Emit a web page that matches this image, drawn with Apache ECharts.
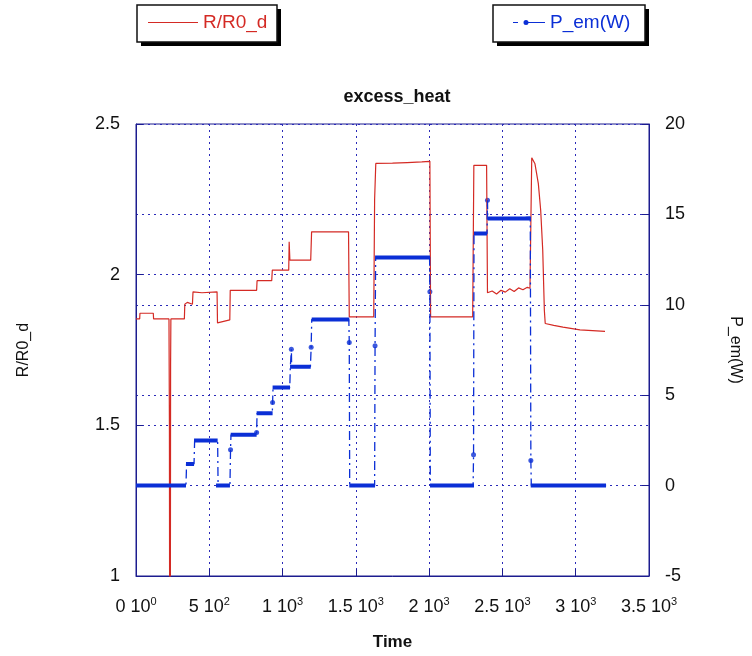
<!DOCTYPE html>
<html lang="en">
<head>
    <meta charset="UTF-8">
    <title>excess_heat</title>
    <script src="https://cdn.jsdelivr.net/npm/echarts@6/dist/echarts.min.js"></script>
</head>
<body style="margin:0;background:#fff">
<div id="chart" style="width:752px;height:656px"></div>
<script type="text/javascript">
    // x tick labels: mantissa and power of ten
    var xTickMant = ['0', '5', '1', '1.5', '2', '2.5', '3', '3.5'];
    var xTickExp = ['0', '2', '3', '3', '3', '3', '3', '3'];

    // R/R0_d (left axis)
    var redT = [0, 25, 27, 118, 120, 225, 228, 230, 232, 234, 236, 238, 330, 333, 350, 385, 389, 450, 553, 556, 560, 640, 643, 823, 826, 926, 930, 1042, 1045, 1050, 1192, 1198, 1450, 1455, 1622, 1628, 1636, 1750, 1850, 1950, 2005, 2010, 2297, 2305, 2392, 2398,
        2430, 2460, 2490, 2520, 2550, 2580, 2610, 2640, 2670, 2688, 2700, 2722, 2745, 2761, 2775, 2786, 2792, 2850, 2913, 3029, 3200];
    var redR = [1.853, 1.853, 1.872, 1.872, 1.853, 1.853, 1.50, 0.60, 1.40, 0.60, 1.70, 1.853, 1.853, 1.902, 1.908, 1.902, 1.943, 1.940, 1.943, 1.84, 1.84, 1.85, 1.948, 1.948, 1.98, 1.98, 2.015, 2.015, 2.109, 2.048, 2.048, 2.142, 2.142, 1.86, 1.86, 2.25, 2.369, 2.370, 2.372, 2.374, 2.376, 1.86, 1.86, 2.363, 2.363, 1.940,
        1.946, 1.936, 1.948, 1.942, 1.953, 1.944, 1.956, 1.950, 1.958, 1.955, 2.388, 2.368, 2.302, 2.214, 2.081, 1.882, 1.838, 1.832, 1.826, 1.817, 1.812];

    // P_em(W) (right axis): dash-dot trace
    var pTraceT = [0, 341, 345, 396, 400, 557, 560, 641, 645, 648, 820, 823, 826, 930, 932, 935, 1049, 1053, 1058, 1060, 1062, 1190, 1195, 1199, 1452, 1455, 1458, 1628, 1631, 1635, 2003, 2005, 2008, 2300, 2303, 2306, 2395, 2398, 2400, 2690, 2694, 2697, 3207];
    var pTraceW = [0, 0, 1.2, 1.2, 2.49, 2.49, 0, 0, 1.98, 2.81, 2.81, 2.94, 4.0, 4.0, 4.6, 5.42, 5.42, 6.58, 6.58, 7.54, 6.58, 6.58, 7.65, 9.19, 9.19, 7.92, 0, 0, 7.74, 12.6, 12.65, 10.72, 0, 0, 1.7, 13.94, 13.94, 15.78, 14.73, 14.85, 1.39, 0, 0];

    // P_em(W): dense sample plateaus (start, end, value)
    var plateauStart = [0, 341, 396, 546, 646, 823, 932, 1051, 1199, 1455, 1631, 2006, 2306, 2400, 2693];
    var plateauEnd = [341, 396, 557, 641, 823, 932, 1051, 1192, 1455, 1631, 2006, 2306, 2395, 2693, 3207];
    var plateauW = [0, 1.2, 2.49, 0, 2.81, 4.0, 5.42, 6.58, 9.19, 0, 12.62, 0, 13.94, 14.78, 0];

    // P_em(W): isolated sample points on the transitions
    var dotT = [645, 823, 932, 1060, 1195, 1455, 1631, 2005, 2303, 2398, 2694];
    var dotW = [1.98, 2.94, 4.6, 7.54, 7.65, 7.92, 7.74, 10.72, 1.7, 15.78, 1.39];

    var RED = '#d42a24';
    var BLUE = '#0b2fd6';
    var FRAME = '#1c1c8f';
    var FONT = 'Liberation Sans';

    function zip(a, b) {
        return a.map(function (v, i) { return [v, b[i]]; });
    }

    var plateauData = [];
    for (var i = 0; i < plateauStart.length; i++) {
        plateauData.push([plateauStart[i], plateauW[i]]);
        plateauData.push([plateauEnd[i], plateauW[i]]);
        plateauData.push([plateauEnd[i], '-']);
    }

    // framed legend boxes with a hard drop shadow
    function legendBox(x, w) {
        return [
            {type: 'rect', z: 1, shape: {x: x + 4, y: 9, width: w, height: 37}, style: {fill: '#000'}},
            {type: 'rect', z: 2, shape: {x: x, y: 5, width: w, height: 37}, style: {fill: '#fff', stroke: '#111', lineWidth: 1.5}}
        ];
    }

    var gridLine = {show: true, lineStyle: {color: '#2a2ab8', type: [2, 4], width: 1}};

    var chart = echarts.init(document.getElementById('chart'));
    chart.setOption({
        backgroundColor: '#fff',
        animation: false,
        textStyle: {fontFamily: FONT},
        graphic: legendBox(137, 140).concat(legendBox(493, 152)),
        title: {
            text: 'excess_heat',
            left: 392, top: 83, textAlign: 'center',
            textStyle: {fontSize: 18, fontWeight: 'bold', color: '#111', fontFamily: FONT}
        },
        legend: [
            {
                data: [{name: 'R/R0_d', icon: 'rect'}],
                left: 148, top: 13, z: 10, padding: 0,
                itemWidth: 50, itemHeight: 1.2,
                itemStyle: {color: RED},
                textStyle: {color: RED, fontSize: 19, fontFamily: FONT}
            },
            {
                data: [{
                    name: 'P_em(W)',
                    icon: 'path://M0,2 L5,2 L5,3 L0,3 Z M10.5,2.5 A2.5,2.5 0 1 1 15.5,2.5 A2.5,2.5 0 1 1 10.5,2.5 Z M13,2 L32,2 L32,3 L13,3 Z'
                }],
                left: 513, top: 13, z: 10, padding: 0,
                itemWidth: 32, itemHeight: 5,
                itemStyle: {color: BLUE},
                textStyle: {color: BLUE, fontSize: 19, fontFamily: FONT}
            }
        ],
        grid: {
            left: 136, right: 103, top: 124, bottom: 79,
            show: true, borderColor: FRAME, borderWidth: 1, backgroundColor: '#fff'
        },
        xAxis: {
            type: 'value', min: 0, max: 3500, interval: 500,
            name: 'Time', nameLocation: 'middle', nameGap: 58,
            nameTextStyle: {fontSize: 17, fontWeight: 'bold', color: '#111', fontFamily: FONT},
            axisLine: {onZero: false, lineStyle: {color: FRAME}},
            axisTick: {inside: true, length: 7, lineStyle: {color: FRAME}},
            splitLine: gridLine,
            axisLabel: {
                margin: 20, color: '#111',
                formatter: function (v) {
                    var k = Math.round(v / 500);
                    return '{m|' + xTickMant[k] + ' 10}{s|' + xTickExp[k] + '}';
                },
                rich: {
                    m: {fontSize: 18, lineHeight: 22, color: '#111', fontFamily: FONT},
                    s: {fontSize: 11, lineHeight: 11, verticalAlign: 'top', color: '#111', fontFamily: FONT}
                }
            }
        },
        yAxis: [
            {
                type: 'value', min: 1, max: 2.5, interval: 0.5, position: 'left',
                name: 'R/R0_d', nameLocation: 'middle', nameRotate: 90, nameGap: 104,
                nameTextStyle: {fontSize: 16, color: '#111', fontFamily: FONT},
                axisLine: {show: true, onZero: false, lineStyle: {color: FRAME}},
                axisTick: {show: true, inside: true, length: 7, lineStyle: {color: FRAME}},
                splitLine: gridLine,
                axisLabel: {fontSize: 18, color: '#111', margin: 16}
            },
            {
                type: 'value', min: -5, max: 20, interval: 5, position: 'right',
                name: 'P_em(W)', nameLocation: 'middle', nameRotate: -90, nameGap: 78,
                nameTextStyle: {fontSize: 16, color: '#111', fontFamily: FONT},
                axisLine: {show: true, onZero: false, lineStyle: {color: FRAME}},
                axisTick: {show: true, inside: true, length: 7, lineStyle: {color: FRAME}},
                splitLine: gridLine,
                axisLabel: {fontSize: 18, color: '#111', margin: 16}
            }
        ],
        series: [
            {
                name: 'R/R0_d', type: 'line', yAxisIndex: 0,
                data: zip(redT, redR),
                symbol: 'none',
                lineStyle: {color: RED, width: 1.2},
                itemStyle: {color: RED}
            },
            {
                name: 'P_em(W)', type: 'line', yAxisIndex: 1,
                data: zip(pTraceT, pTraceW),
                symbol: 'circle', symbolSize: 4, showSymbol: false,
                lineStyle: {color: BLUE, width: 1.3, type: [9, 4, 2, 4]},
                itemStyle: {color: BLUE}
            },
            {
                name: 'P_em(W)', type: 'line', yAxisIndex: 1,
                data: plateauData,
                symbol: 'none',
                lineStyle: {color: BLUE, width: 4},
                itemStyle: {color: BLUE}
            },
            {
                name: 'P_em(W)', type: 'scatter', yAxisIndex: 1,
                data: zip(dotT, dotW),
                symbol: 'circle', symbolSize: 5,
                itemStyle: {color: BLUE}
            }
        ]
    });
</script>
</body>
</html>
